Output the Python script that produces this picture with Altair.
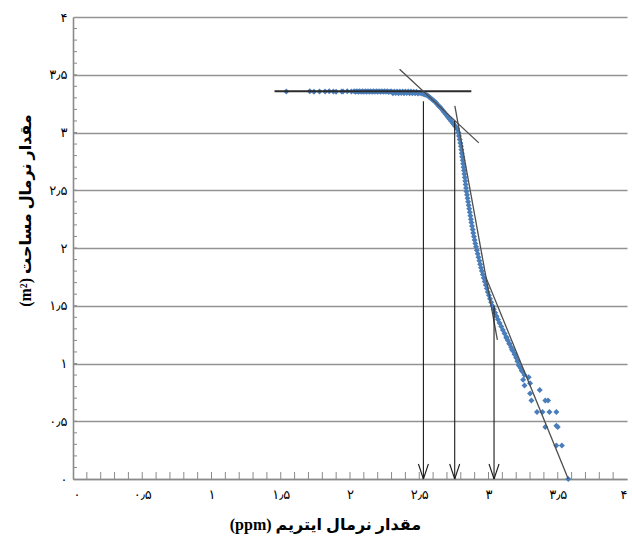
import altair as alt
import pandas as pd

# ---------------- axis ticks / labels ----------------
axis_values = [0, 0.5, 1, 1.5, 2, 2.5, 3, 3.5, 4]
axis_labels = ["۰", "۰٫۵", "۱", "۱٫۵", "۲", "۲٫۵", "۳", "۳٫۵", "۴"]
minor_ticks = [round(i / 10, 1) for i in range(1, 40)]

x_title = "(ppm) مقدار نرمال ایتریم"
y_title = "(m²) مقدار نرمال مساحت"

# ---------------- data points ----------------
flat_x = [1.54, 1.71, 1.74, 1.78, 1.82, 1.85, 1.88, 1.90, 1.94, 1.95, 1.98, 2.01,
          2.03, 2.04, 2.05, 2.06, 2.07, 2.08, 2.09, 2.10, 2.11, 2.12, 2.13, 2.14, 2.15,
          2.16, 2.17, 2.18, 2.19, 2.20, 2.21, 2.22, 2.23, 2.24, 2.25, 2.26, 2.27, 2.28, 2.29,
          2.30, 2.31, 2.32, 2.33, 2.34, 2.35, 2.36, 2.37, 2.38, 2.39, 2.40, 2.41, 2.42,
          2.43, 2.44, 2.45, 2.46, 2.47, 2.48, 2.49]
flat_y = [3.355, 3.357, 3.353, 3.356, 3.354, 3.357, 3.355, 3.353, 3.356, 3.354, 3.357, 3.355,
          3.358, 3.352, 3.357, 3.353, 3.358, 3.352, 3.357, 3.353, 3.358, 3.352, 3.357, 3.353, 3.358,
          3.352, 3.357, 3.353, 3.358, 3.352, 3.357, 3.353, 3.358, 3.352, 3.357, 3.353, 3.358, 3.350, 3.356,
          3.355, 3.340, 3.356, 3.341, 3.355, 3.340, 3.356, 3.341, 3.355, 3.340, 3.356, 3.341, 3.355,
          3.340, 3.354, 3.340, 3.353, 3.339, 3.352, 3.338]

bend_x = [2.50, 2.51, 2.52, 2.53, 2.54, 2.55, 2.56, 2.57, 2.58, 2.59, 2.60, 2.61, 2.62, 2.63,
          2.64, 2.65, 2.66, 2.67, 2.68, 2.69, 2.70, 2.71, 2.72, 2.73, 2.74, 2.75, 2.76]
bend_y = [3.345, 3.342, 3.338, 3.334, 3.330, 3.325, 3.320, 3.310, 3.300, 3.290, 3.280, 3.270,
          3.260, 3.245, 3.230, 3.220, 3.205, 3.190, 3.175, 3.160, 3.145, 3.130, 3.115, 3.100,
          3.085, 3.070, 3.055]

steep_y = [3.03, 3.00, 2.97, 2.94, 2.91, 2.88, 2.85, 2.82, 2.79, 2.76, 2.73, 2.70, 2.67, 2.64,
           2.61, 2.58, 2.55, 2.52, 2.49, 2.46, 2.43, 2.40, 2.37, 2.34, 2.31, 2.28, 2.25, 2.22,
           2.19, 2.16, 2.13, 2.10, 2.07, 2.04, 2.01, 1.98, 1.95, 1.92, 1.89, 1.86, 1.83, 1.80,
           1.77, 1.74, 1.71, 1.68, 1.65, 1.62, 1.59, 1.56, 1.53, 1.50]
steep_x = [2.774, 2.782, 2.787, 2.792, 2.797, 2.801, 2.804, 2.807, 2.810, 2.814, 2.817, 2.820,
           2.823, 2.826, 2.829, 2.832, 2.835, 2.838, 2.841, 2.845, 2.849, 2.853, 2.857, 2.861,
           2.865, 2.869, 2.873, 2.877, 2.881, 2.886, 2.890, 2.895, 2.900, 2.905, 2.910, 2.916,
           2.922, 2.928, 2.934, 2.940, 2.946, 2.952, 2.959, 2.966, 2.973, 2.980, 2.988, 2.995,
           3.003, 3.011, 3.019, 3.028]

tail_y = [1.47, 1.44, 1.41, 1.38, 1.35, 1.32, 1.29, 1.26, 1.23, 1.20, 1.17, 1.14, 1.11, 1.08,
          1.05, 1.02, 0.99, 0.96, 0.93]
tail_x = [3.038, 3.048, 3.058, 3.068, 3.080, 3.092, 3.104, 3.116, 3.128, 3.140, 3.152, 3.164,
          3.176, 3.188, 3.200, 3.210, 3.220, 3.232, 3.245]

wide_x = [3.13, 3.15, 3.17, 3.19, 3.21, 3.22, 3.24, 3.26]
wide_y = [1.22, 1.17, 1.12, 1.08, 1.02, 0.98, 0.94, 0.90]

scatter_x = [3.29, 3.25, 3.30, 3.26, 3.37, 3.30, 3.31, 3.41, 3.43, 3.35, 3.39, 3.44, 3.49,
             3.41, 3.49, 3.50, 3.49, 3.53, 3.576]
scatter_y = [0.88, 0.86, 0.83, 0.81, 0.77, 0.74, 0.68, 0.68, 0.68, 0.58, 0.58, 0.58, 0.58,
             0.45, 0.46, 0.45, 0.29, 0.29, 0.0]

# ---------------- drawn lines ----------------
hline_x1, hline_x2, hline_y = [1.455], [2.876], [3.357]
tan_x1 = [2.358, 2.757, 2.98]
tan_y1 = [3.547, 3.23, 1.75]
tan_x2 = [2.93, 3.064, 3.576]
tan_y2 = [2.91, 1.205, 0.0]
arrow_x = [2.53, 2.756, 3.04]
arrow_top = [3.27, 3.10, 1.50]
HEAD_DX, HEAD_DY = 0.036, 0.13

# ---------------- tables ----------------
pts = pd.DataFrame({
    "x": flat_x + bend_x + steep_x + tail_x + wide_x + scatter_x,
    "y": flat_y + bend_y + steep_y + tail_y + wide_y + scatter_y,
})
hline = pd.DataFrame({"x": hline_x1, "x2": hline_x2, "y": hline_y, "y2": hline_y})
tang = pd.DataFrame({"x": tan_x1, "y": tan_y1, "x2": tan_x2, "y2": tan_y2})
arr_rows = []
for ax, top in zip(arrow_x, arrow_top):
    arr_rows.append({"x": ax, "y": top, "x2": ax, "y2": 0.0})
    arr_rows.append({"x": ax - HEAD_DX, "y": HEAD_DY, "x2": ax, "y2": 0.0})
    arr_rows.append({"x": ax + HEAD_DX, "y": HEAD_DY, "x2": ax, "y2": 0.0})
arrows = pd.DataFrame(arr_rows)
ticks = pd.DataFrame({"x": minor_ticks, "y": minor_ticks})

label_expr = "[" + ",".join(f"'{l}'" for l in axis_labels) + "][round(datum.value*2)]"
xs = alt.Scale(domain=[0, 4], nice=False, zero=False)
ys = alt.Scale(domain=[0, 4], nice=False, zero=False)
AR_FONT = "DejaVu Sans"
TITLE_FONT = "'Liberation Serif', 'DejaVu Sans'"

x_axis = alt.Axis(values=axis_values, labelExpr=label_expr, grid=False, tickSize=0,
                  domainColor="#8a8a8a", domainWidth=1.6, labelFont=AR_FONT, labelFontSize=13,
                  labelColor="#000", labelPadding=9, title=x_title, titleFont=TITLE_FONT,
                  titleFontSize=16, titleFontWeight="bold", titleColor="#000",
                  titleX=252, titleY=45, titleAlign="center", titleBaseline="middle")
y_axis = alt.Axis(values=axis_values, labelExpr=label_expr, grid=True, gridColor="#939393",
                  gridWidth=1.6, tickSize=0, domainColor="#8a8a8a", domainWidth=1.6,
                  labelFont=AR_FONT, labelFontSize=13, labelColor="#000", labelPadding=6,
                  title=y_title, titleFont=TITLE_FONT, titleFontSize=16, titleFontWeight="bold",
                  titleColor="#000", titleX=-48, titleY=193, titleAlign="center",
                  titleBaseline="middle", titleAngle=270)

X = alt.X("x:Q", scale=xs, axis=x_axis)
Y = alt.Y("y:Q", scale=ys, axis=y_axis)

points = alt.Chart(pts).mark_point(shape="diamond", filled=True, size=36, opacity=1,
                                   color="#4A7EBB").encode(x=X, y=Y)

xt = alt.Chart(ticks).mark_rule(color="#8a8a8a", strokeWidth=1).encode(
    x=X, y=alt.value(462), y2=alt.value(455))
yt = alt.Chart(ticks).mark_rule(color="#8a8a8a", strokeWidth=1).encode(
    y=Y, x=alt.value(0), x2=alt.value(4))

h = alt.Chart(hline).mark_rule(color="#2b2b2b", strokeWidth=2.2).encode(
    x=X, x2="x2:Q", y=Y, y2="y2:Q")
t = alt.Chart(tang).mark_rule(color="#4d4d4d", strokeWidth=1.3).encode(
    x=X, x2="x2:Q", y=Y, y2="y2:Q")
a = alt.Chart(arrows).mark_rule(color="#1a1a1a", strokeWidth=1.1).encode(
    x=X, x2="x2:Q", y=Y, y2="y2:Q")

chart = alt.layer(points, xt, yt, h, t, a).properties(
    width=554, height=462,
    autosize=alt.AutoSizeParams(type="none"),
    padding={"left": 73, "top": 17, "right": 5, "bottom": 63},
    background="white",
).configure_view(stroke=None)

chart.save("out.html", embed_options={"renderer": "svg", "actions": False})
